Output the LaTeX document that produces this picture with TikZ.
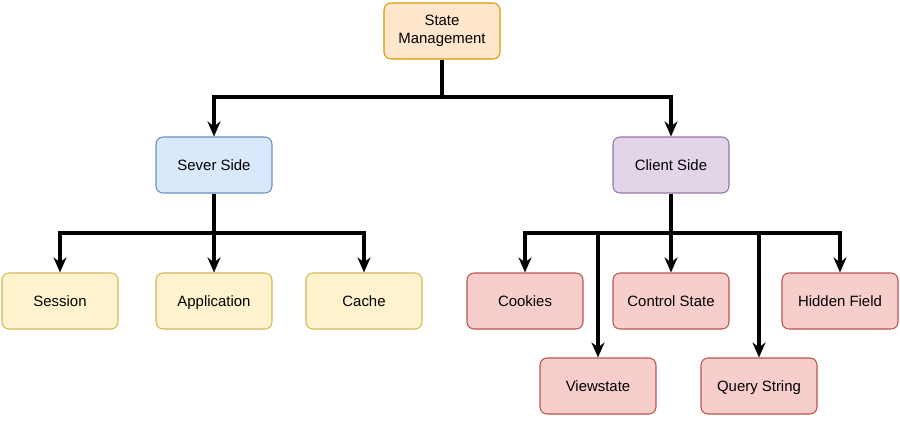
\documentclass[tikz,border=0pt]{standalone}
\usepackage{fontspec}
\setmainfont{Liberation Sans}
\usetikzlibrary{arrows.meta, positioning}
\definecolor{rootfill}{HTML}{FFE6CC}\definecolor{rootline}{HTML}{D79B00}
\definecolor{srvfill}{HTML}{DAE8FC}\definecolor{srvline}{HTML}{6C8EBF}
\definecolor{clifill}{HTML}{E1D5E7}\definecolor{cliline}{HTML}{9673A6}
\definecolor{yelfill}{HTML}{FFF2CC}\definecolor{yelline}{HTML}{D6B656}
\definecolor{redfill}{HTML}{F8CECC}\definecolor{redline}{HTML}{B85450}

\begin{document}
\begin{tikzpicture}[x=0.02cm, y=-0.02cm,
    box/.style={rectangle, rounded corners=4pt, draw, line width=0.6pt, minimum width=2.32cm, minimum height=1.12cm, align=center, text height=1.6ex, text depth=0.4ex, font=\fontsize{8.5}{10}\selectfont},
    root/.style={box, fill=rootfill, draw=rootline, text height=, text depth=},
    server/.style={box, fill=srvfill, draw=srvline},
    client/.style={box, fill=clifill, draw=cliline},
    srvitem/.style={box, fill=yelfill, draw=yelline},
    cliitem/.style={box, fill=redfill, draw=redline},
    link/.style={line width=2pt},
    arrow/.style={link, -{Stealth[length=3mm, width=2.6mm]}}
]
\useasboundingbox (0,0) rectangle (900,420);

% Nodes
\node[root] (state) at (442,31) {State\\Management};
\node[server] (sever) at (214,165) {Sever Side};
\node[client] (client) at (671,165) {Client Side};
\node[srvitem] (session) at (60,301) {Session};
\node[srvitem] (app) at (214,301) {Application};
\node[srvitem] (cache) at (364,301) {Cache};
\node[cliitem] (cookies) at (525,301) {Cookies};
\node[cliitem] (control) at (671,301) {Control State};
\node[cliitem] (hidden) at (840,301) {Hidden Field};
\node[cliitem] (view) at (598,386) {Viewstate};
\node[cliitem] (query) at (759,386) {Query String};

% Junctions
\coordinate (j1) at (442,97);
\coordinate (j2) at (214,233);
\coordinate (j3) at (671,233);

% Top level
\draw[link] (state.south) -- (j1);
\draw[arrow] (j1) -| (sever.north);
\draw[arrow] (j1) -| (client.north);

% Server side
\draw[link] (sever.south) -- (j2);
\draw[arrow] (j2) -| (session.north);
\draw[arrow] (j2) -- (app.north);
\draw[arrow] (j2) -| (cache.north);

% Client side
\draw[link] (client.south) -- (j3);
\draw[arrow] (j3) -| (cookies.north);
\draw[arrow] (j3) -- (control.north);
\draw[arrow] (j3) -| (hidden.north);
\draw[arrow] (j3) -| (view.north);
\draw[arrow] (j3) -| (query.north);

\end{tikzpicture}
\end{document}
